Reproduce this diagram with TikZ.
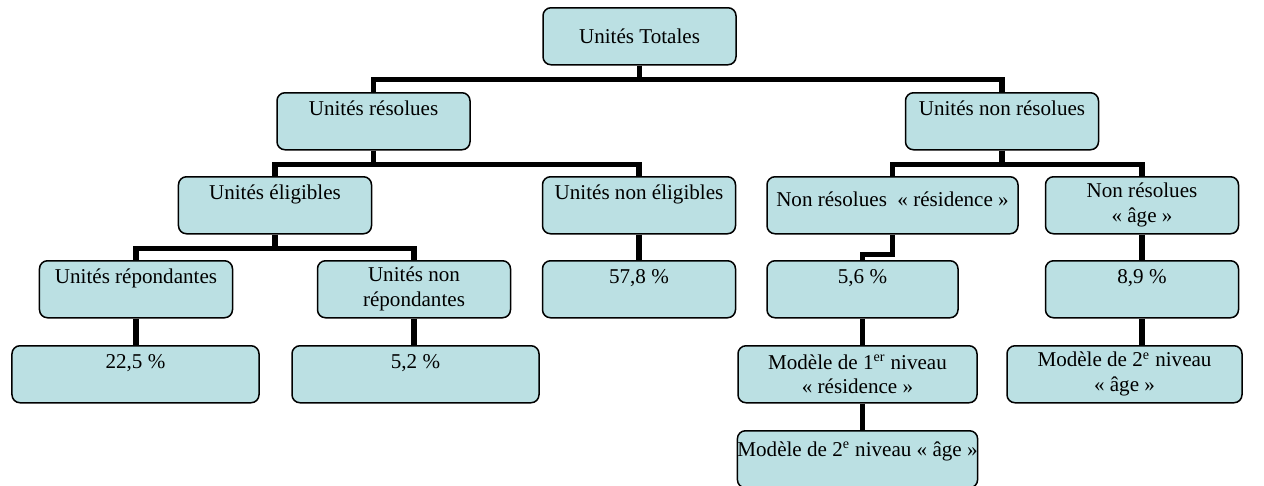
\documentclass[tikz,border=0pt]{standalone}
\usepackage{fontspec}
\setmainfont{Liberation Serif}
\definecolor{boxfill}{RGB}{187,224,227}

\begin{document}
\begin{tikzpicture}[x=0.2mm,y=-0.2mm,
        unit/.style={draw,rounded corners=1.6mm,fill=boxfill,line width=0.3mm,inner sep=0pt,align=center,anchor=north,font=\fontsize{12}{14.2}\selectfont,minimum width=38.6mm,minimum height=11.4mm},
        toptext/.style={text height=4.6mm,text depth=6.8mm},
        link/.style={line width=1.1mm}]
        \useasboundingbox (0,0) rectangle (1264,485);
        \node[unit] (total) at (639.5,7) {Unités Totales};
        \node[unit,toptext] (resolved) at (373.5,92) {Unités résolues};
        \node[unit,toptext] (unresolved) at (1002,92) {Unités non résolues};
        \node[unit,toptext] (eligible) at (275,176) {Unités éligibles};
        \node[unit,toptext] (noneligible) at (639,176) {Unités non éligibles};
        \node[unit,minimum width=50.2mm,text height=4.8mm,text depth=4.4mm] (residence) at (892.5,176) {Non résolues~ « résidence »};
        \node[unit] (age) at (1142,176) {Non résolues\\« âge »};
        \node[unit,toptext] (respond) at (136,260) {Unités répondantes};
        \node[unit] (nonrespond) at (414,260) {Unités non\\répondantes};
        \node[unit,toptext] (pctnonelig) at (639,260) {57,8 \%};
        \node[unit,toptext,minimum width=38.2mm] (pctres) at (862.5,260) {5,6 \%};
        \node[unit,toptext] (pctage) at (1142,260) {8,9 \%};
        \node[unit,toptext,minimum width=49.4mm] (pctresp) at (135.5,345) {22,5 \%};
        \node[unit,toptext,minimum width=49.4mm] (pctnonresp) at (415.5,345) {5,2 \%};
        \node[unit,minimum width=47.8mm] (modelone) at (857.5,345) {Modèle de 1\textsuperscript{er} niveau\\« résidence »};
        \node[unit,minimum width=47mm] (modeltwo) at (1124.5,345) {Modèle de 2\textsuperscript{e} niveau\\« âge »};
        \node[unit,minimum width=47.8mm,text height=4.4mm,text depth=5.6mm] (modeltwob) at (857.5,430) {Modèle de 2\textsuperscript{e} niveau « âge »};
        \draw[link] (total.south) -- ++(0,14) -| (resolved.north);
        \draw[link] (total.south) -- ++(0,14) -| (unresolved.north);
        \draw[link] (resolved.south) -- ++(0,14) -| (eligible.north);
        \draw[link] (resolved.south) -- ++(0,14) -| (noneligible.north);
        \draw[link] (unresolved.south) -- ++(0,14) -| (residence.north);
        \draw[link] (unresolved.south) -- ++(0,14) -| (age.north);
        \draw[link] (eligible.south) -- ++(0,14) -| (respond.north);
        \draw[link] (eligible.south) -- ++(0,14) -| (nonrespond.north);
        \draw[link] (noneligible.south) -- (pctnonelig.north);
        \draw[link] (residence.south) -- ++(0,20) -| (pctres.north);
        \draw[link] (age.south) -- (pctage.north);
        \draw[link] (respond.south) -- (respond.south |- pctresp.north);
        \draw[link] (nonrespond.south) -- (nonrespond.south |- pctnonresp.north);
        \draw[link] (pctres.south) -- (pctres.south |- modelone.north);
        \draw[link] (pctage.south) -- (pctage.south |- modeltwo.north);
        \draw[link] (pctres.south |- modelone.south) -- (pctres.south |- modeltwob.north);
    \end{tikzpicture}
\end{document}
